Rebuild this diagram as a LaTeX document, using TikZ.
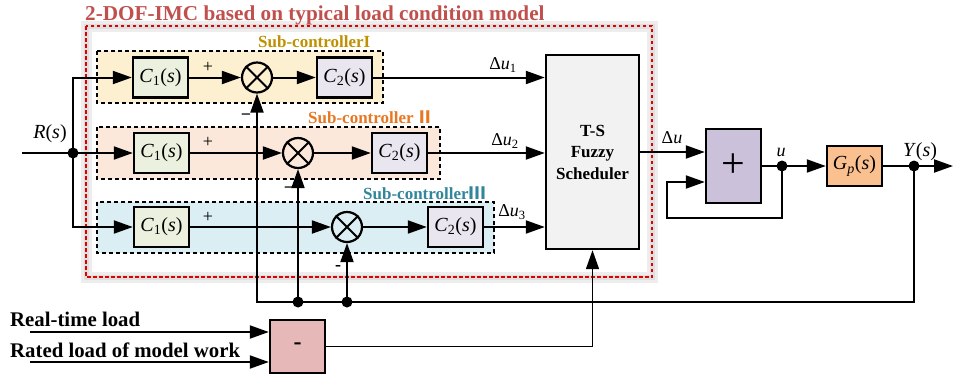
\documentclass[tikz,border=0pt]{standalone}
\usepackage{fontspec}
\setmainfont{Liberation Serif}
\newfontfamily\cjk{Noto Sans CJK SC}
\usetikzlibrary{arrows.meta,calc}
\definecolor{titred}{HTML}{C0504D}
\definecolor{boxred}{HTML}{E00000}
\definecolor{subIc}{HTML}{BF9000}
\definecolor{subIIc}{HTML}{E87722}
\definecolor{subIIIc}{HTML}{31869B}
\definecolor{subIf}{HTML}{FDF0D0}
\definecolor{subIIf}{HTML}{FCE8DA}
\definecolor{subIIIf}{HTML}{DAEEF3}
\definecolor{cof}{HTML}{EBF1DE}
\definecolor{ctf}{HTML}{E9E6EF}
\definecolor{tsf}{HTML}{F2F2F2}
\definecolor{plf}{HTML}{CCC1DA}
\definecolor{gpf}{HTML}{FAC090}
\definecolor{mif}{HTML}{E6B9B8}
\newcommand{\tfn}[2]{\textit{#1}\textsubscript{#2}(\textit{s})}
\newcommand{\du}[1]{Δ\textit{u}\textsubscript{#1}}
\begin{document}
\begin{tikzpicture}[x=1pt,y=-1pt,
  blk/.style={draw=black,line width=2.4pt,minimum width=55pt,minimum height=40pt,inner sep=0pt,
    font=\fontsize{20}{24}\selectfont},
  sumn/.style={draw=black,line width=2.2pt,circle,minimum size=30pt,inner sep=0pt},
  dotn/.style={fill=black,circle,minimum size=11pt,inner sep=0pt},
  subbox/.style={draw=black,line width=2pt,dash pattern=on 4pt off 3pt},
  conn/.style={line width=2pt},
  arr/.style={line width=2pt,-{Triangle[length=19pt,width=13pt]}},
  lbl/.style={font=\fontsize{18}{20}\selectfont,inner sep=0pt},
  sgn/.style={font=\fontsize{18}{20}\selectfont,inner sep=0pt},
  sublbl/.style={font=\fontsize{17}{20}\selectfont\bfseries,inner sep=0pt,anchor=base west},
  btxt/.style={font=\fontsize{20.8}{22}\selectfont\bfseries,inner sep=0pt,anchor=base west}]
\useasboundingbox (0,0) rectangle (953,376);
% glow and red dashed frame
\draw[gray!14,line width=11pt] (86,26) rectangle (652,277);
\draw[gray!25,line width=5pt] (86,26) rectangle (652,277);
\draw[boxred,line width=2.6pt,dash pattern=on 3.5pt off 2.5pt] (86,26) rectangle (652,277);
\node[anchor=base west,inner sep=0pt,text=titred,font=\fontsize{21.2}{22}\selectfont\bfseries] (title) at (85,20) {2-DOF-IMC based on typical load condition model};
% sub-controller boxes
\fill[subIf] (97,51) rectangle (383,103);
\fill[subIIf] (97,127) rectangle (440,179);
\fill[subIIIf] (97,202) rectangle (494,253);
\draw[subbox] (97,51) rectangle (383,103);
\draw[subbox] (97,127) rectangle (440,179);
\draw[subbox] (97,202) rectangle (494,253);
\node[sublbl,text=subIc] (l1) at (258,47) {Sub-controllerI};
\node[sublbl,text=subIIc] (l2) at (308,123) {Sub-controller\,{\cjk Ⅱ}};
\node[sublbl,text=subIIIc] (l3) at (363,199) {Sub-controller{\cjk Ⅲ}};
% blocks
\node[blk,fill=cof] (c11) at (160.5,77.5) {\tfn{C}{1}};
\node[sumn] (s1) at (257,77.5) {};
\node[blk,fill=ctf] (c21) at (344.5,77.5) {\tfn{C}{2}};
\node[blk,fill=cof] (c12) at (161.5,153) {\tfn{C}{1}};
\node[sumn] (s2) at (298,153) {};
\node[blk,fill=ctf] (c22) at (399.5,153) {\tfn{C}{2}};
\node[blk,fill=cof] (c13) at (161.5,227) {\tfn{C}{1}};
\node[sumn] (s3) at (347,227) {};
\node[blk,fill=ctf] (c23) at (455.5,227) {\tfn{C}{2}};
\foreach \s in {s1,s2,s3}{
  \draw[line width=2pt] (\s.north east) -- (\s.south west) (\s.north west) -- (\s.south east);}
\node[blk,fill=tsf,minimum width=93pt,minimum height=194pt,align=center,
  font=\fontsize{17}{21.5}\selectfont\bfseries] (ts) at (592.5,152) {T-S\\Fuzzy\\Scheduler};
\node[blk,fill=plf,minimum width=55pt,minimum height=74pt,font=\fontsize{42}{42}\selectfont] (plus) at (733.5,166) {+};
\node[blk,fill=gpf,minimum height=40pt] (gp) at (854.5,166) {\textit{G}\textsubscript{\textit{p}}(\textit{s})};
\node[blk,fill=mif,minimum width=55pt,minimum height=53pt,font=\fontsize{24}{24}\selectfont\bfseries] (minus) at (297.5,346.5) {-};
% dots and coordinates
\node[dotn] (dR) at (73,153) {};
\node[dotn] (du) at (782,166) {};
\node[dotn] (dY) at (914,166) {};
\node[dotn] (dB1) at (298,302) {};
\node[dotn] (dB2) at (347,302) {};
\coordinate (rin) at (22,153);
\coordinate (yout) at (953,166);
\coordinate (cB) at (257,302);
\coordinate (fbL) at (667,218);
\coordinate (li1) at (30,332);
\coordinate (li2) at (30,362);
% connectors
\draw[conn] (rin) -- (dR.center);
\draw[arr] (dR.center) |- (c11.west);
\draw[arr] (dR.center) -- (c12.west);
\draw[arr] (dR.center) |- (c13.west);
\draw[arr] (c11) -- (s1);
\draw[arr] (s1) -- (c21);
\draw[arr] (c12) -- (s2);
\draw[arr] (s2) -- (c22);
\draw[arr] (c13) -- (s3);
\draw[arr] (s3) -- (c23);
\draw[arr] (c21.east) -- (c21.east -| ts.west);
\draw[arr] (c22.east) -- (c22.east -| ts.west);
\draw[arr] (c23.east) -- (c23.east -| ts.west);
\draw[arr] (ts.east) -- (ts.east -| plus.west);
\draw[conn] (plus.east) -- (du.center);
\draw[arr] (du.center) -- (gp.west);
\draw[conn] (gp.east) -- (dY.center);
\draw[arr] (dY.center) -- (yout);
\draw[arr] (du.center) |- (fbL) |- ([yshift=-16pt]plus.west);
\draw[arr] (dY.center) |- (cB) -- (s1.south);
\draw[arr] (dB1.center) -- (s2.south);
\draw[arr] (dB2.center) -- (s3.south);
\draw[arr] (li1) -- (li1 -| minus.west);
\draw[arr] (li2) -- (li2 -| minus.west);
\draw[line width=1.6pt,-{Triangle[length=19pt,width=13pt]}] (minus.east) -| (ts.south);
% labels
\node[lbl] (ldu1) at (503,65) {\du{1}};
\node[lbl] (ldu2) at (505,141) {\du{2}};
\node[lbl] (ldu3) at (512,212) {\du{3}};
\node[lbl] (ldu) at (672,138) {Δ\textit{u}};
\node[lbl] (lu) at (781,152) {\textit{u}};
\node[lbl,font=\fontsize{20}{22}\selectfont] (lY) at (920,152) {\textit{Y}(\textit{s})};
\node[lbl,font=\fontsize{20}{22}\selectfont] (lR) at (50,134) {\textit{R}(\textit{s})};
\node[sgn] (p1) at (208,67) {+};
\node[sgn] (p2) at (208,142) {+};
\node[sgn] (p3) at (208,217) {+};
\node[sgn,font=\fontsize{18}{20}\selectfont\bfseries] (m1) at (246,117) {−};
\node[sgn,font=\fontsize{18}{20}\selectfont\bfseries] (m2) at (289,190) {−};
\node[sgn,font=\fontsize{18}{20}\selectfont\bfseries] (m3) at (338,268) {-};
\node[btxt] (t1) at (10,326) {Real-time load};
\node[btxt] (t2) at (10,357) {Rated load of model work};
\end{tikzpicture}
\end{document}
